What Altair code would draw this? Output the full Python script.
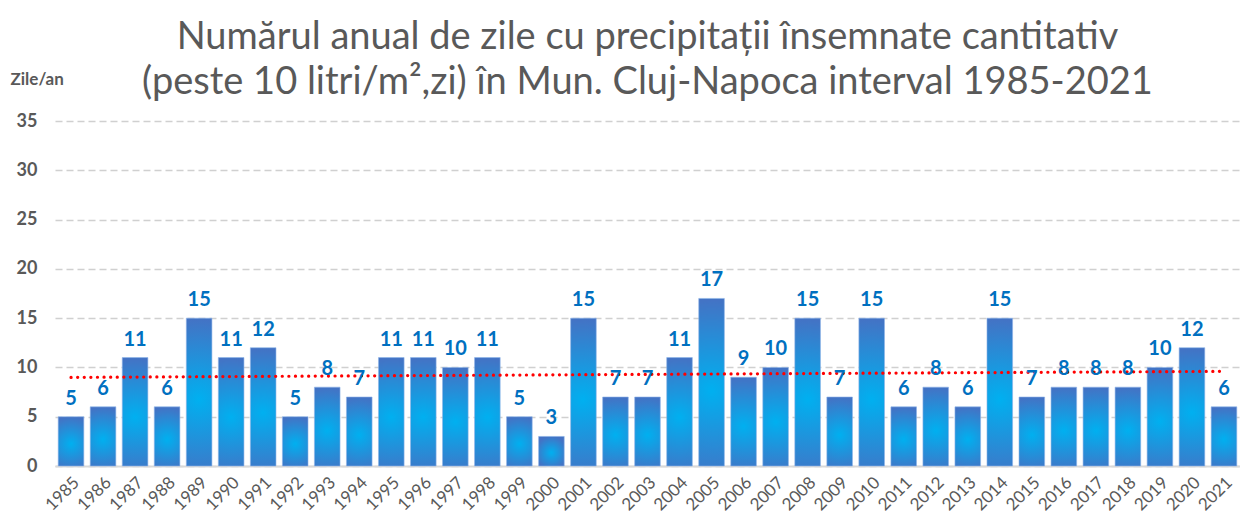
import altair as alt
import pandas as pd

years = list(range(1985, 2022))
values = [5, 6, 11, 6, 15, 11, 12, 5, 8, 7, 11, 11, 10, 11, 5, 3, 15, 7, 7, 11,
          17, 9, 10, 15, 7, 15, 6, 8, 6, 15, 7, 8, 8, 8, 10, 12, 6]
y_ticks = [0, 5, 10, 15, 20, 25, 30, 35]

df = pd.DataFrame({"year": years, "v": values})

FONT = "Lato"
GRAY = "#595959"

grad = alt.Gradient(
    gradient="radial",
    stops=[alt.GradientStop(color="#00b0f0", offset=0),
           alt.GradientStop(color="#4472c4", offset=1)],
    x1=0.5, y1=0.55, r1=0, x2=0.5, y2=0.55, r2=0.55,
)

x = alt.X("year:O", title=None,
          scale=alt.Scale(paddingInner=0.2, paddingOuter=0.1),
          axis=alt.Axis(labelAngle=-45, labelFontSize=17, labelColor=GRAY,
                        labelFont=FONT, ticks=False, domain=True,
                        domainColor="#d9d9d9", domainWidth=2, labelPadding=8))
y = alt.Y("v:Q", scale=alt.Scale(domain=[0, 35]),
          axis=alt.Axis(values=y_ticks, title="Zile/an", titleAngle=0,
                        titleAlign="left", titleBaseline="middle",
                        titleX=-45, titleY=-42, titleFontSize=17,
                        titleFontWeight="bold", titleColor=GRAY, titleFont=FONT,
                        labelFontSize=18, labelFontWeight="bold",
                        labelColor=GRAY, labelFont=FONT, labelPadding=18,
                        ticks=False, domain=False, grid=True,
                        gridColor="#d0d0d0", gridDash=[7, 4], gridWidth=1.3))

base = alt.Chart(df)
bars = base.mark_bar(color=grad, stroke="#8fb3e8", strokeWidth=0.6).encode(x=x, y=y)
labels = base.mark_text(baseline="bottom", dy=-8, fontSize=20, fontWeight="bold",
                        color="#0070c0", font=FONT).encode(
    x="year:O", y="v:Q", text="v:Q")
trend = base.transform_regression("year", "v").mark_line(
    color="#ff0000", strokeDash=[0.1, 6.5], strokeWidth=3.2, strokeCap="round"
).encode(x="year:O", y="v:Q")

chart = alt.layer(bars, trend, labels).properties(
    width=1185, height=345,
    title=alt.TitleParams(
        ["Numărul anual de zile cu precipitații însemnate cantitativ",
         "(peste 10 litri/m²,zi) în Mun. Cluj-Napoca interval 1985-2021"],
        fontSize=38, font=FONT, fontWeight="normal", color=GRAY,
        anchor="middle", offset=0, dy=32, lineHeight=45),
    autosize=alt.AutoSizeParams(type="none"),
    padding={"left": 47, "top": 113, "right": 0, "bottom": 55},
).configure_view(stroke=None)

chart.save("out.html", embed_options={"renderer": "svg", "actions": False})
